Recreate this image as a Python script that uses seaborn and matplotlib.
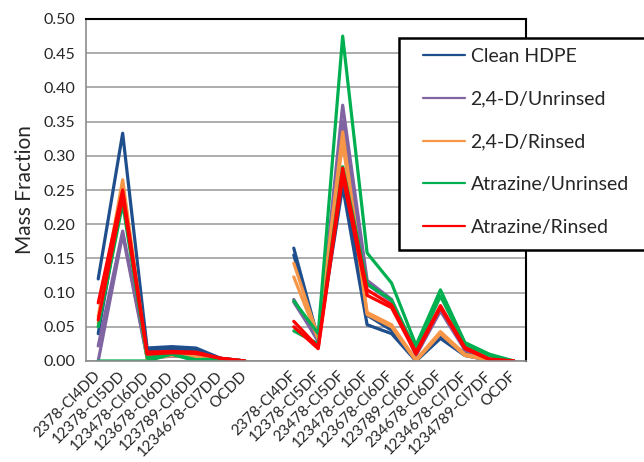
import numpy as np
import pandas as pd
import seaborn as sns
import matplotlib.pyplot as plt
import matplotlib.transforms as mtransforms
from matplotlib.lines import Line2D
from matplotlib.patches import Rectangle

congeners = ["2378-Cl4DD", "12378-Cl5DD", "123478-Cl6DD", "123678-Cl6DD",
             "123789-Cl6DD", "1234678-Cl7DD", "OCDD", "",
             "2378-Cl4DF", "12378-Cl5DF", "23478-Cl5DF", "123478-Cl6DF",
             "123678-Cl6DF", "123789-Cl6DF", "234678-Cl6DF", "1234678-Cl7DF",
             "1234789-Cl7DF", "OCDF"]

series_names = ["Clean HDPE", "2,4-D/Unrinsed", "2,4-D/Rinsed",
                "Atrazine/Unrinsed", "Atrazine/Rinsed"]
series_colors = ["#1F4E8C", "#8064A2", "#F79646", "#00B050", "#FF0000"]

# two replicate profiles per treatment, None = blank gap category
clean_hdpe = [
    [0.120, 0.333, 0.019, 0.021, 0.019, 0.004, 0.000, None,
     0.165, 0.032, 0.265, 0.067, 0.045, 0.000, 0.035, 0.012, 0.002, 0.000],
    [0.040, 0.245, 0.016, 0.018, 0.016, 0.004, 0.000, None,
     0.155, 0.030, 0.255, 0.053, 0.040, 0.000, 0.033, 0.008, 0.001, 0.000],
]
d24_unrinsed = [
    [0.022, 0.190, 0.006, 0.009, 0.007, 0.003, 0.000, None,
     0.086, 0.030, 0.374, 0.118, 0.090, 0.010, 0.075, 0.018, 0.003, 0.000],
    [0.000, 0.185, 0.004, 0.007, 0.006, 0.003, 0.000, None,
     0.090, 0.028, 0.350, 0.112, 0.087, 0.008, 0.073, 0.016, 0.002, 0.000],
]
d24_rinsed = [
    [0.065, 0.265, 0.005, 0.010, 0.006, 0.003, 0.000, None,
     0.143, 0.035, 0.335, 0.071, 0.053, 0.002, 0.043, 0.010, 0.002, 0.000],
    [0.055, 0.250, 0.003, 0.008, 0.005, 0.003, 0.000, None,
     0.123, 0.032, 0.320, 0.068, 0.050, 0.000, 0.040, 0.008, 0.001, 0.000],
]
atr_unrinsed = [
    [0.050, 0.230, 0.005, 0.010, 0.002, 0.003, 0.000, None,
     0.088, 0.040, 0.475, 0.158, 0.114, 0.023, 0.104, 0.027, 0.010, 0.000],
    [0.000, 0.000, 0.000, 0.010, 0.000, 0.003, 0.000, None,
     0.044, 0.025, 0.284, 0.113, 0.089, 0.015, 0.095, 0.024, 0.008, 0.000],
]
atr_rinsed = [
    [0.085, 0.250, 0.013, 0.014, 0.013, 0.004, 0.000, None,
     0.058, 0.020, 0.282, 0.104, 0.082, 0.013, 0.081, 0.020, 0.003, 0.000],
    [0.060, 0.240, 0.010, 0.012, 0.011, 0.004, 0.000, None,
     0.050, 0.018, 0.270, 0.096, 0.078, 0.010, 0.078, 0.018, 0.002, 0.000],
]

all_series = [clean_hdpe, d24_unrinsed, d24_rinsed, atr_unrinsed, atr_rinsed]

rows = []
for name, reps in zip(series_names, all_series):
    for r, vals in enumerate(reps):
        for i, v in enumerate(vals):
            if v is None:
                continue
            group = "DD" if i < 7 else "DF"
            rows.append({"series": name, "trace": f"{name}-{r}-{group}",
                         "pos": i, "value": v})
df = pd.DataFrame(rows)

sns.set_style("white")
plt.rcParams["font.family"] = ["Lato", "DejaVu Sans"]

fig = plt.figure(figsize=(6.44, 4.62), dpi=100)
ax = fig.add_axes([86 / 644, 1 - 361 / 462, 440 / 644, 342 / 462])

sns.lineplot(data=df, x="pos", y="value", hue="series", units="trace",
             estimator=None, hue_order=series_names, palette=series_colors,
             lw=2.3, legend=False, ax=ax)

ax.set_xlim(-0.5, 17.5)
ax.set_ylim(0, 0.5)
ax.set_yticks(np.arange(0, 0.501, 0.05))
ax.set_yticklabels([f"{t:.2f}" for t in np.arange(0, 0.501, 0.05)])
ax.yaxis.grid(True, color="#a0a0a0", lw=1.2)
ax.set_axisbelow(True)

ax.set_xticks(range(len(congeners)))
ax.set_xticklabels(congeners, rotation=45, ha="right", va="center",
                   rotation_mode="anchor")
shift = mtransforms.ScaledTranslation(5 / 100, 0, fig.dpi_scale_trans)
for lab in ax.get_xticklabels():
    lab.set_transform(lab.get_transform() + shift)
ax.set_xticks(np.arange(-0.5, 17.6, 1), minor=True)
ax.tick_params(axis="x", which="major", length=0, pad=9, labelsize=11)
ax.tick_params(axis="x", which="minor", length=5, width=1.2,
               color="#8c8c8c", direction="out")
ax.tick_params(axis="y", length=5, width=1.2, color="#8c8c8c",
               direction="out", labelsize=11.5, pad=3)
ax.set_xlabel("")
ax.set_ylabel("Mass Fraction", fontsize=15, labelpad=6)

for side in ["left", "bottom"]:
    ax.spines[side].set_color("#8c8c8c")
    ax.spines[side].set_linewidth(1.2)
for side in ["top", "right"]:
    ax.spines[side].set_visible(True)
    ax.spines[side].set_color("black")
    ax.spines[side].set_linewidth(1.5)

box = Rectangle((399 / 644, 1 - 250 / 462), 250 / 644, 212 / 462,
                transform=fig.transFigure, facecolor="white",
                edgecolor="black", lw=1.8, zorder=5)
fig.patches.append(box)

handles = [Line2D([], [], color=c, lw=1.6) for c in series_colors]
leg = fig.legend(handles, series_names, loc="upper left",
                 bbox_to_anchor=(423 / 644, 1 - 48 / 462), frameon=False,
                 fontsize=14, labelspacing=1.32, handlelength=2.15,
                 handletextpad=0.3, borderpad=0, borderaxespad=0)
leg.set_zorder(6)

fig.savefig("out.png", dpi=100)
plt.close()
